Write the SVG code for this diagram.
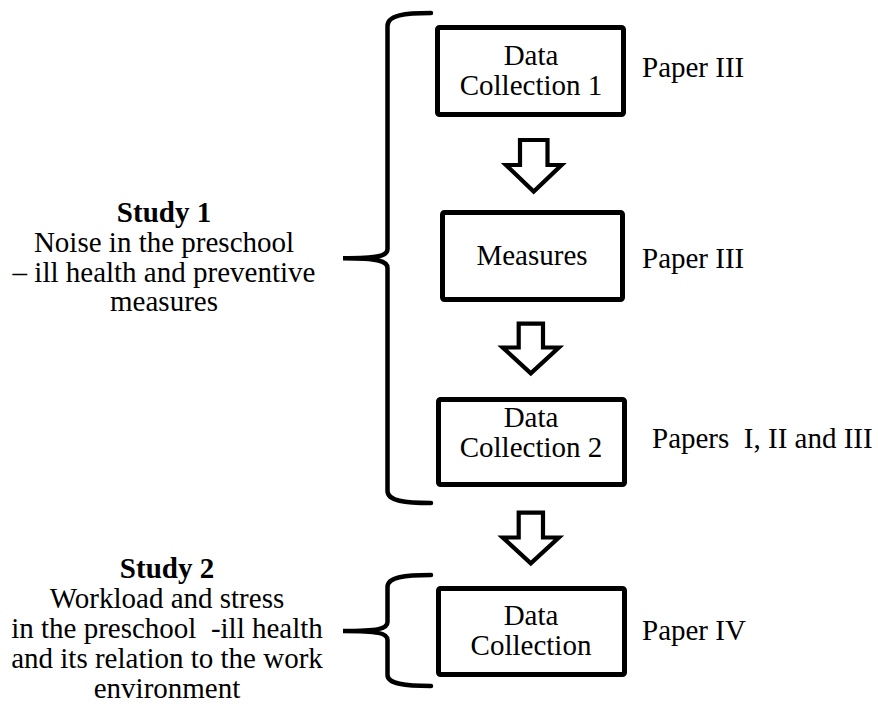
<svg xmlns="http://www.w3.org/2000/svg" width="878" height="704" viewBox="0 0 878 704">
  <style>
    text { font-family: "Liberation Serif", "Times New Roman", serif; font-size: 29px; fill: #000; }
    .c { text-anchor: middle; }
    .b { font-weight: bold; }
    .box { fill: #fff; stroke: #000; stroke-width: 5; stroke-linejoin: round; }
    .brace { fill: none; stroke: #000; stroke-width: 4.5; stroke-linecap: round; }
    .arrow { fill: #fff; stroke: #000; stroke-width: 4.2; stroke-linejoin: miter; }
  </style>

  <!-- Study descriptions -->
  <g id="study1">
    <text class="c b" x="164" y="222">Study 1</text>
    <text class="c" x="164" y="252">Noise in the preschool</text>
    <text class="c" x="164" y="282">– ill health and preventive</text>
    <text class="c" x="164" y="311">measures</text>
  </g>
  <g id="study2">
    <text class="c b" x="167" y="578">Study 2</text>
    <text class="c" x="167" y="608">Workload and stress</text>
    <text class="c" x="167" y="638" xml:space="preserve">in the preschool  -ill health</text>
    <text class="c" x="167" y="668">and its relation to the work</text>
    <text class="c" x="167" y="698">environment</text>
  </g>

  <!-- Process boxes -->
  <g id="collection1">
    <rect class="box" x="437.5" y="27.5" width="186" height="87" rx="2"/>
    <text class="c" x="531" y="65">Data</text>
    <text class="c" x="531" y="95">Collection 1</text>
  </g>
  <g id="measures">
    <rect class="box" x="442.5" y="212.5" width="180" height="87" rx="2"/>
    <text class="c" x="532" y="265">Measures</text>
  </g>
  <g id="collection2">
    <rect class="box" x="438.5" y="399.5" width="186" height="85" rx="2"/>
    <text class="c" x="531" y="427">Data</text>
    <text class="c" x="531" y="457">Collection 2</text>
  </g>
  <g id="collection">
    <rect class="box" x="438.5" y="588.5" width="186" height="86" rx="2"/>
    <text class="c" x="531" y="625">Data</text>
    <text class="c" x="531" y="655">Collection</text>
  </g>

  <!-- Paper references -->
  <g id="papers">
    <text x="642" y="77">Paper III</text>
    <text x="642" y="268">Paper III</text>
    <text x="652" y="448" xml:space="preserve">Papers  I, II and III</text>
    <text x="642" y="640">Paper IV</text>
  </g>

  <!-- Connectors: block arrows and grouping braces -->
  <g id="connectors">
    <path class="arrow" d="M520,140 L547.5,140 L547.5,165 L561.5,165 L533.7,191.5 L506,165 L520,165 Z"/>
    <path class="arrow" d="M518.7,323.7 L543,323.7 L543,347.5 L558.8,347.5 L530.8,373.3 L502.7,347.5 L518.7,347.5 Z"/>
    <path class="arrow" d="M518.7,512.7 L543,512.7 L543,537.5 L558.8,537.5 L530.8,563.3 L502.7,537.5 L518.7,537.5 Z"/>

    <path class="brace" d="M431,13 C405,13 387.5,15 387.5,26 L387.5,249 C387.5,256 378,258.3 343,258.3 C378,258.3 387.5,261 387.5,268 L387.5,491 C387.5,501 405,503 431,503"/>
    <path class="brace" d="M431,575 C405,575 387.5,577 387.5,587 L387.5,622 C387.5,629 378,631 343,631 C378,631 387.5,633 387.5,640 L387.5,675 C387.5,684 405,686 431,686"/>
  </g>
</svg>
